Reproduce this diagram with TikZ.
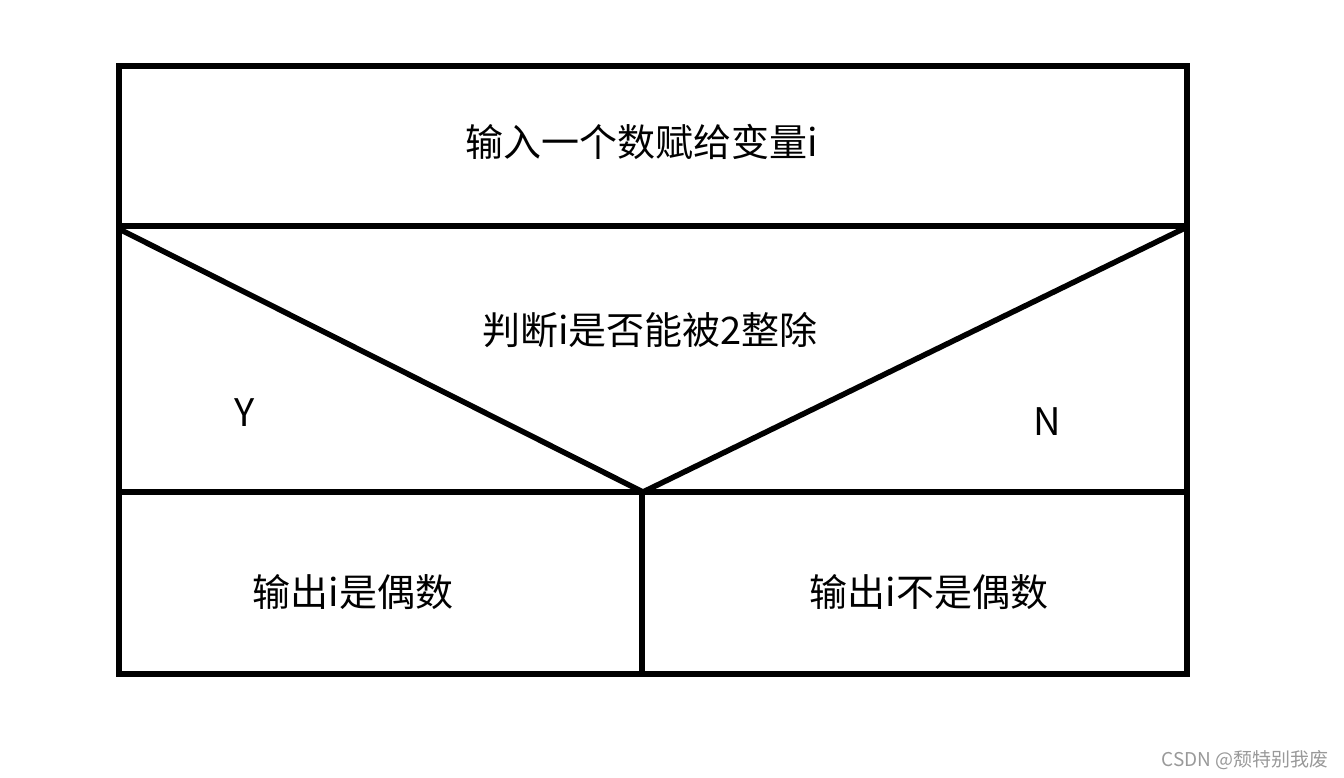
\documentclass[tikz,border=0pt]{standalone}
\usepackage{fontspec}
\setmainfont{Noto Sans CJK SC}

\begin{document}
\begin{tikzpicture}[x=1pt, y=-1pt, line width=5.5pt,
	every node/.style={font=\fontsize{38}{44}\selectfont, inner sep=0pt}]
	\useasboundingbox (0,0) rectangle (1344,778);
	% frame and rows
	\draw (119,66) rectangle (1187,674);
	\draw (119,226) -- (1187,226);
	\draw (119,492) -- (1187,492);
	\draw (642,492) -- (642,674);
	% condition triangle
	\draw[line join=round] (119,229) -- (643,492) -- (1185,228);
	\node (input) at (642,142) {输入一个数赋给变量i};
	\node (cond) at (650,330) {判断i是否能被2整除};
	\node (yes) at (245,413) {Y};
	\node (no) at (1047,422) {N};
	\node (even) at (353,592) {输出i是偶数};
	\node (odd) at (929,592) {输出i不是偶数};
	\node[font=\fontsize{19}{22}\selectfont, text=gray!80] (mark) at (1245,760) {CSDN @颓特别我废};
\end{tikzpicture}
\end{document}
